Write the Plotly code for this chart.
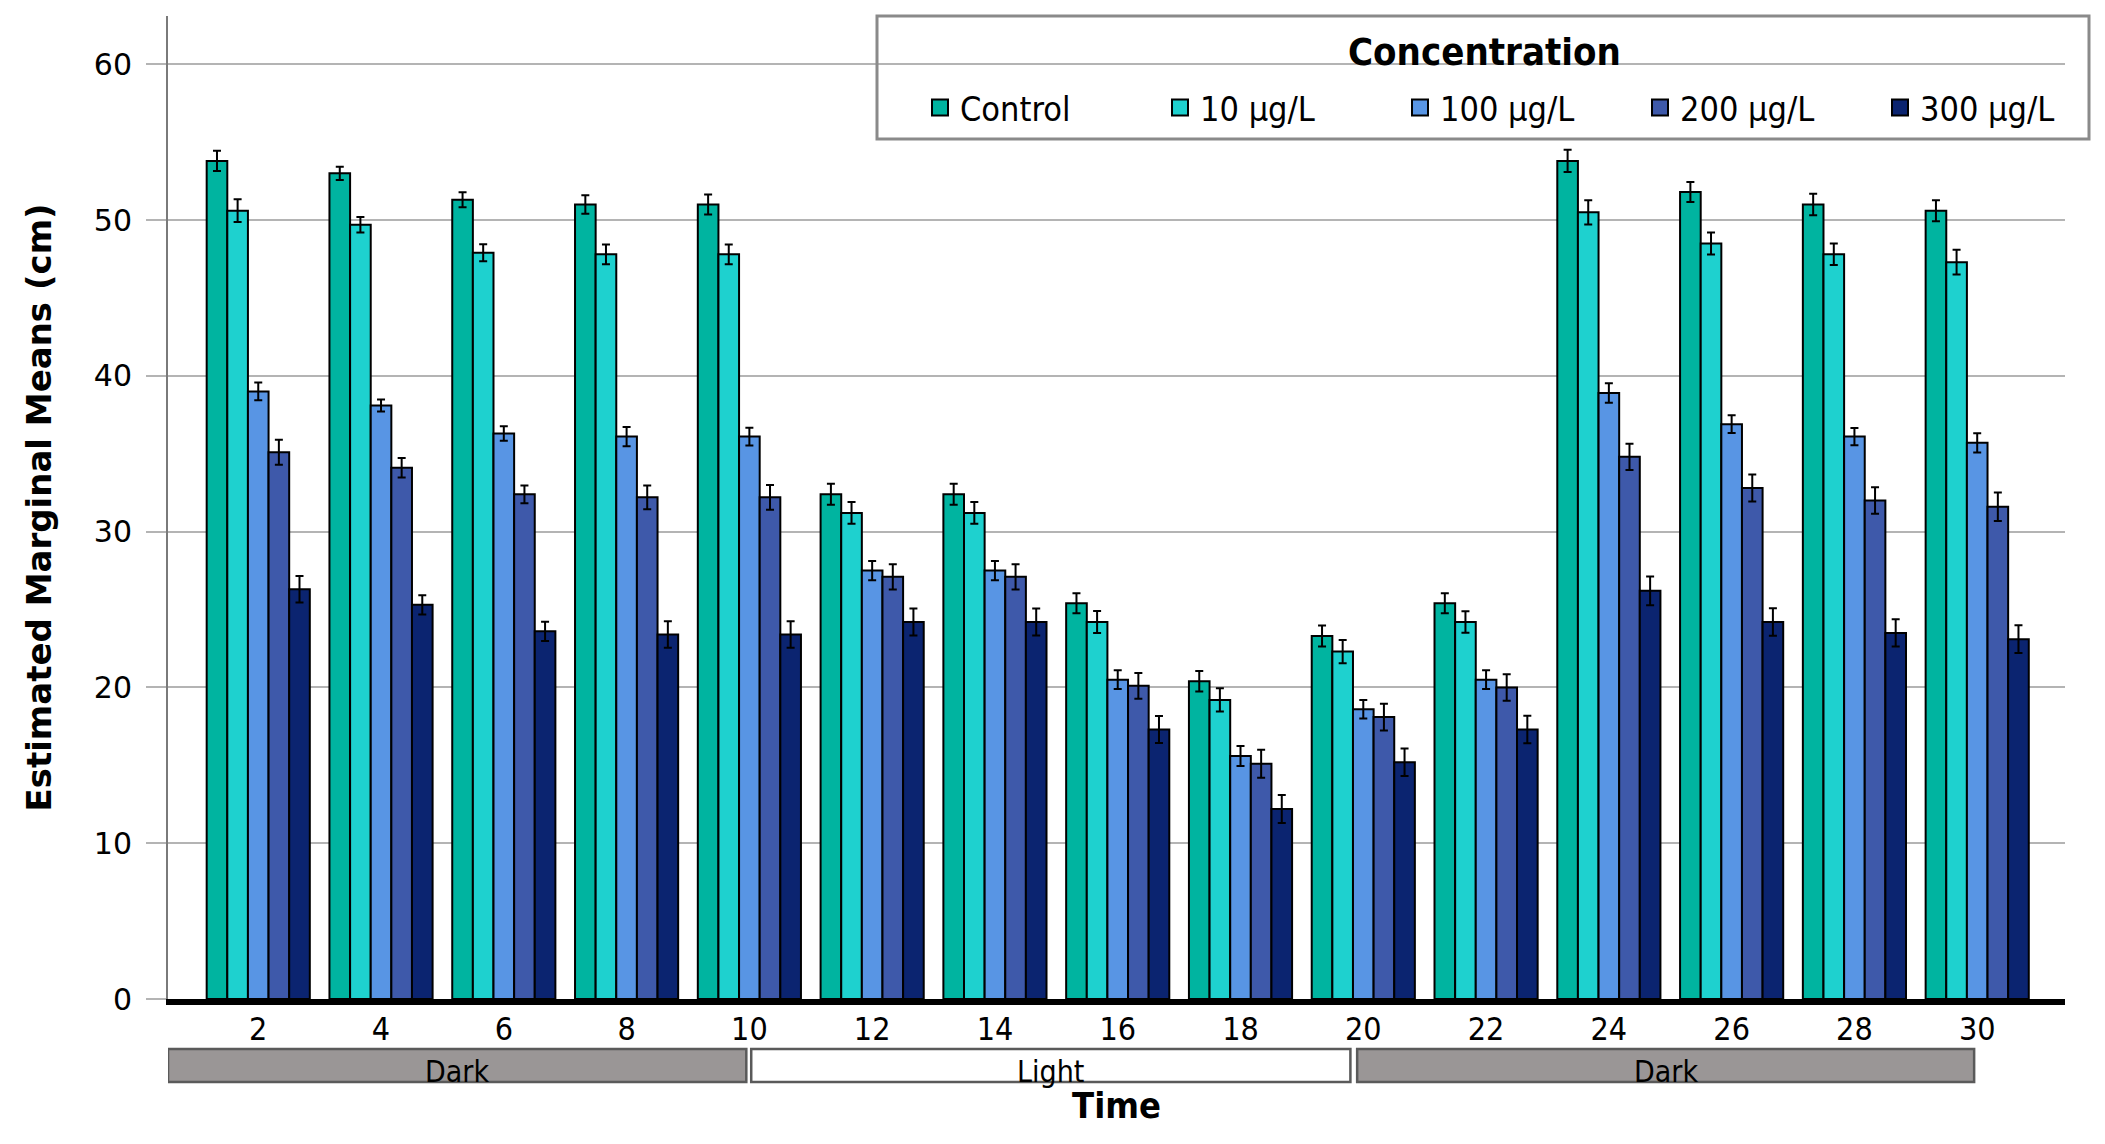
import plotly.graph_objects as go

times = [2, 4, 6, 8, 10, 12, 14, 16, 18, 20, 22, 24, 26, 28, 30]
series_names = ["Control", "10 µg/L", "100 µg/L", "200 µg/L", "300 µg/L"]

control = [53.8, 53.0, 51.3, 51.0, 51.0, 32.4, 32.4, 25.4, 20.4, 23.3, 25.4, 53.8, 51.8, 51.0, 50.6]
c10 = [50.6, 49.7, 47.9, 47.8, 47.8, 31.2, 31.2, 24.2, 19.2, 22.3, 24.2, 50.5, 48.5, 47.8, 47.3]
c100 = [39.0, 38.1, 36.3, 36.1, 36.1, 27.5, 27.5, 20.5, 15.6, 18.6, 20.5, 38.9, 36.9, 36.1, 35.7]
c200 = [35.1, 34.1, 32.4, 32.2, 32.2, 27.1, 27.1, 20.1, 15.1, 18.1, 20.0, 34.8, 32.8, 32.0, 31.6]
c300 = [26.3, 25.3, 23.6, 23.4, 23.4, 24.2, 24.2, 17.3, 12.2, 15.2, 17.3, 26.2, 24.2, 23.5, 23.1]

err_control = [0.65, 0.42, 0.48, 0.60, 0.64, 0.68, 0.68, 0.64, 0.66, 0.68, 0.64, 0.71, 0.64, 0.69, 0.67]
err_c10 = [0.73, 0.50, 0.55, 0.64, 0.64, 0.70, 0.70, 0.70, 0.75, 0.75, 0.69, 0.78, 0.71, 0.69, 0.80]
err_c100 = [0.57, 0.39, 0.46, 0.62, 0.57, 0.62, 0.62, 0.60, 0.64, 0.60, 0.60, 0.62, 0.57, 0.55, 0.62]
err_c200 = [0.80, 0.62, 0.57, 0.76, 0.80, 0.81, 0.81, 0.83, 0.90, 0.86, 0.85, 0.85, 0.87, 0.85, 0.92]
err_c300 = [0.85, 0.62, 0.62, 0.85, 0.85, 0.86, 0.86, 0.86, 0.90, 0.88, 0.88, 0.92, 0.89, 0.87, 0.89]

# phases shown below the axis: (label, start time, end time)
phase_labels = ["Dark", "Light", "Dark"]
phase_start = [0.53, 10.03, 19.9]
phase_end = [9.95, 19.79, 29.95]
phase_fill = ["#9a9696", "#ffffff", "#9a9696"]

values = [control, c10, c100, c200, c300]
errors = [err_control, err_c10, err_c100, err_c200, err_c300]
colors = ["#00B4A0", "#1ED1CF", "#5895E4", "#3E59AA", "#0B2470"]

COND = "DejaVu Sans Condensed, Liberation Sans Narrow, DejaVu Sans, sans-serif"
WIDE = "DejaVu Sans, Verdana, sans-serif"

W, H = 2105, 1144
ML, MR, MT, MB = 168, 40, 16, 145
PW = W - ML - MR
PH = H - MT - MB


def px_x(px):
    return (px - ML) / PW


def px_y(py):
    return (H - MB - py) / PH


fig = go.Figure()
for name, vals, errs, col in zip(series_names, values, errors, colors):
    fig.add_trace(go.Bar(
        x=times, y=vals, name=name, legendgroup=name, showlegend=False,
        marker=dict(color=col, line=dict(color="#000000", width=2)),
        error_y=dict(type="data", array=errs, visible=True,
                     color="#000000", thickness=2, width=4),
    ))
# legend entries with larger square swatches
for name, col in zip(series_names, colors):
    fig.add_trace(go.Scatter(
        x=[None], y=[None], mode="markers", name=name, legendgroup=name,
        marker=dict(symbol="square", size=16, color=col,
                    line=dict(color="#000000", width=2)),
        hoverinfo="skip",
    ))

shapes = []
annotations = []
for lab, x0, x1, fill in zip(phase_labels, phase_start, phase_end, phase_fill):
    shapes.append(dict(type="rect", xref="x", yref="paper",
                       x0=x0, x1=x1, y0=px_y(1082), y1=px_y(1049),
                       fillcolor=fill, line=dict(color="#5a5a5a", width=2.5),
                       layer="above"))
    annotations.append(dict(text=lab, xref="x", yref="paper",
                            x=(x0 + x1) / 2, y=px_y(1071),
                            showarrow=False, xanchor="center", yanchor="middle",
                            font=dict(family=COND, size=30, color="#000000")))

# legend frame and title
shapes.append(dict(type="rect", xref="paper", yref="paper",
                   x0=px_x(877), x1=px_x(2089), y0=px_y(139), y1=px_y(16),
                   fillcolor="rgba(0,0,0,0)", line=dict(color="#8a8a8a", width=3),
                   layer="above"))
annotations.append(dict(text="<b>Concentration</b>", xref="paper", yref="paper",
                        x=px_x(1484), y=px_y(52), showarrow=False,
                        xanchor="center", yanchor="middle",
                        font=dict(family=COND, size=38, color="#000000")))

fig.update_layout(
    width=W, height=H,
    margin=dict(l=ML, r=MR, t=MT, b=MB, autoexpand=False),
    plot_bgcolor="#ffffff", paper_bgcolor="#ffffff",
    barmode="group", bargap=0.16, bargroupgap=0.0,
    showlegend=True,
    legend=dict(orientation="h", x=px_x(920), xanchor="left",
                y=px_y(108), yanchor="middle",
                bgcolor="rgba(0,0,0,0)", borderwidth=0,
                entrywidth=195, entrywidthmode="pixels",
                itemclick=False, itemdoubleclick=False,
                font=dict(family=COND, size=34, color="#000000")),
    shapes=shapes,
    annotations=annotations,
    xaxis=dict(
        range=[0.53, 31.43], tickmode="array", tickvals=times,
        ticktext=[str(t) for t in times],
        showgrid=False, zeroline=False,
        showline=True, linecolor="#000000", linewidth=6,
        ticks="", ticklabelstandoff=-3,
        tickfont=dict(family=COND, size=32, color="#000000"),
        title=dict(text="<b>Time</b>", standoff=47,
                   font=dict(family=COND, size=36, color="#000000")),
        automargin=False,
    ),
    yaxis=dict(
        range=[0, 63.1], tickmode="array", tickvals=[0, 10, 20, 30, 40, 50, 60],
        showgrid=True, gridcolor="#b4b4b4", gridwidth=2,
        zeroline=False,
        showline=True, linecolor="#7a7a7a", linewidth=2,
        ticks="outside", ticklen=20, tickcolor="#b4b4b4", tickwidth=2,
        ticklabelstandoff=8,
        tickfont=dict(family=WIDE, size=30, color="#000000"),
        title=dict(text="<b>Estimated Marginal Means (cm)</b>", standoff=32,
                   font=dict(family=WIDE, size=34, color="#000000")),
        automargin=False,
    ),
)

fig.write_html("out.html", config={"displayModeBar": False},
               post_script="document.body.style.margin='0';document.body.style.overflow='hidden';")
